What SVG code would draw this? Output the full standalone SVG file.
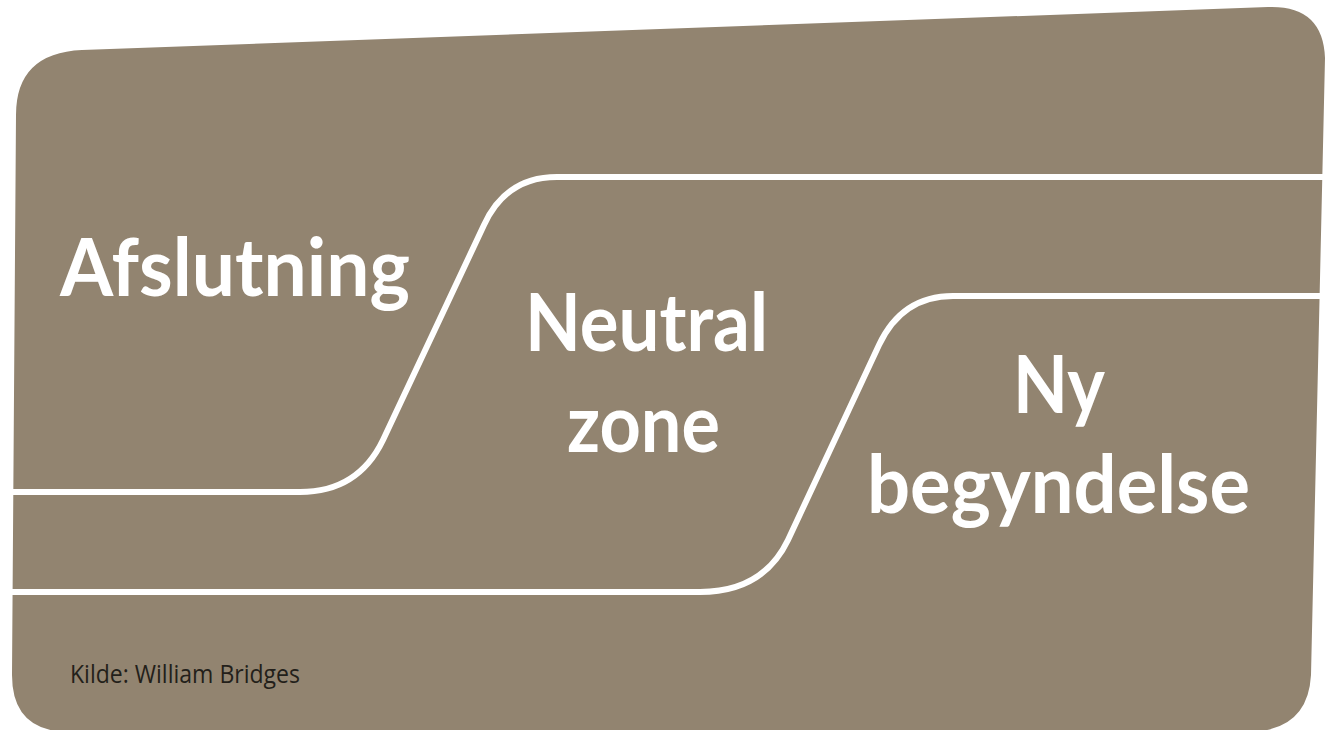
<svg xmlns="http://www.w3.org/2000/svg" width="1325" height="730" viewBox="0 0 1325 730">
<style>
.card{fill:#928470}
.conn{fill:none;stroke:#ffffff;stroke-width:6;stroke-linecap:butt;stroke-linejoin:round}
.big{font-family:Lato,"Liberation Sans",sans-serif;font-weight:700;font-size:81px;fill:#ffffff}
.src{font-family:"Open Sans","Liberation Sans",Arial,sans-serif;font-size:25px;fill:#231f1a}
</style>
<rect width="1325" height="730" fill="#ffffff"/>
<g id="card">
<path class="card" d="M 16,115 Q 16,53 82,50 L 1268,7 Q 1323,5 1325,58 L 1311,675 Q 1308,730 1250,732 L 70,732 Q 12,732 12,675 Z"/>
</g>
<g id="connectors">
<path class="conn" d="M 12,492 L 300,492 Q 358,492 383,440 L 484,225 Q 506,177 557,177 L 1325,177"/>
<path class="conn" d="M 12,592 L 700,592 Q 763,592 788,540 L 879,345 Q 902,296 953,296 L 1325,296"/>
</g>
<g id="afslutning">
<text class="big" x="60" y="296" textLength="350" lengthAdjust="spacingAndGlyphs">Afslutning</text>
</g>
<g id="neutral-zone">
<text class="big" x="525" y="351" textLength="243" lengthAdjust="spacingAndGlyphs">Neutral</text>
<text class="big" x="567" y="452" textLength="153" lengthAdjust="spacingAndGlyphs">zone</text>
</g>
<g id="ny-begyndelse">
<text class="big" x="1013" y="413" textLength="92" lengthAdjust="spacingAndGlyphs">Ny</text>
<text class="big" x="867" y="513" textLength="383" lengthAdjust="spacingAndGlyphs">begyndelse</text>
</g>
<g id="source">
<text class="src" x="70" y="683" textLength="230" lengthAdjust="spacingAndGlyphs">Kilde: William Bridges</text>
</g>
</svg>
